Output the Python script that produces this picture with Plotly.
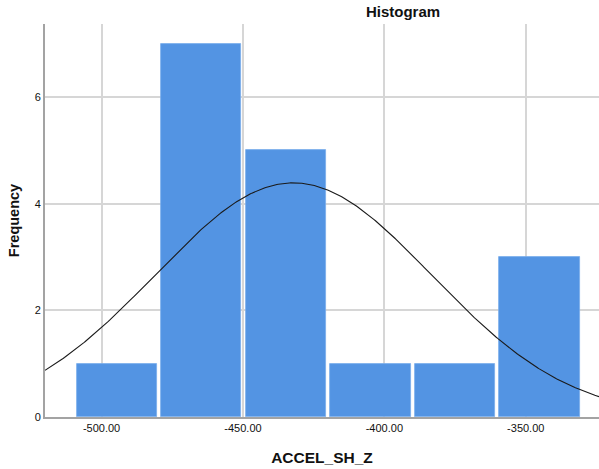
import numpy as np
import plotly.graph_objects as go

# Histogram of ACCEL_SH_Z: bin edges and counts
bin_start = -509.6
bin_width = 29.9
counts = [1, 7, 5, 1, 1, 3]

# Normal curve parameters (fitted to the sample)
mean_val = -432.2
sd_val = 48.9
n_total = sum(counts)

x_ticks = [-500, -450, -400, -350]
x_tick_labels = ["-500.00", "-450.00", "-400.00", "-350.00"]
y_ticks = [0, 2, 4, 6]

x_range = [-520.0, -324.1]
y_range = [0, 7.37]

centers = [bin_start + bin_width * (i + 0.5) for i in range(len(counts))]

# Scaled normal density over the visible axis range
xc = np.linspace(x_range[0], x_range[1], 400)
yc = n_total * bin_width / (sd_val * np.sqrt(2 * np.pi)) * np.exp(-0.5 * ((xc - mean_val) / sd_val) ** 2)

fig = go.Figure()
fig.add_trace(go.Bar(
    x=centers, y=counts, width=bin_width - 1.5,
    marker=dict(color="#5394e3", line=dict(color="#7aaceb", width=0.8)),
    hoverinfo="x+y", showlegend=False,
))
fig.add_trace(go.Scatter(
    x=xc, y=yc, mode="lines",
    line=dict(color="#1a1a1a", width=1.1),
    hoverinfo="skip", showlegend=False,
))

font_family = "Liberation Sans, Arial, sans-serif"

fig.update_layout(
    width=599, height=469,
    margin=dict(l=45, r=0, t=24, b=52),
    paper_bgcolor="white", plot_bgcolor="white",
    font=dict(family=font_family, color="#000000"),
    title=dict(text="<b>Histogram</b>", x=403 / 599, xanchor="center",
               y=1 - 12 / 469, yanchor="middle",
               font=dict(size=15, family=font_family, color="#111111")),
    bargap=0,
)
fig.update_xaxes(
    range=x_range, tickvals=x_ticks, ticktext=x_tick_labels,
    showgrid=True, gridcolor="#d6d6d6", gridwidth=1.5,
    showline=True, linecolor="#a3a3a3", linewidth=2,
    ticks="", tickfont=dict(size=11, color="#111111"),
    zeroline=False,
    title=dict(text="<b>ACCEL_SH_Z</b>", standoff=19,
               font=dict(size=15.5, color="#111111")),
)
fig.update_yaxes(
    range=y_range, tickvals=y_ticks,
    showgrid=True, gridcolor="#d6d6d6", gridwidth=1.5,
    showline=True, linecolor="#a3a3a3", linewidth=2,
    ticks="", tickfont=dict(size=11, color="#111111"),
    zeroline=False,
    title=dict(text="<b>Frequency</b>", standoff=12,
               font=dict(size=14.5, color="#111111")),
)

fig.write_html("out.html")
